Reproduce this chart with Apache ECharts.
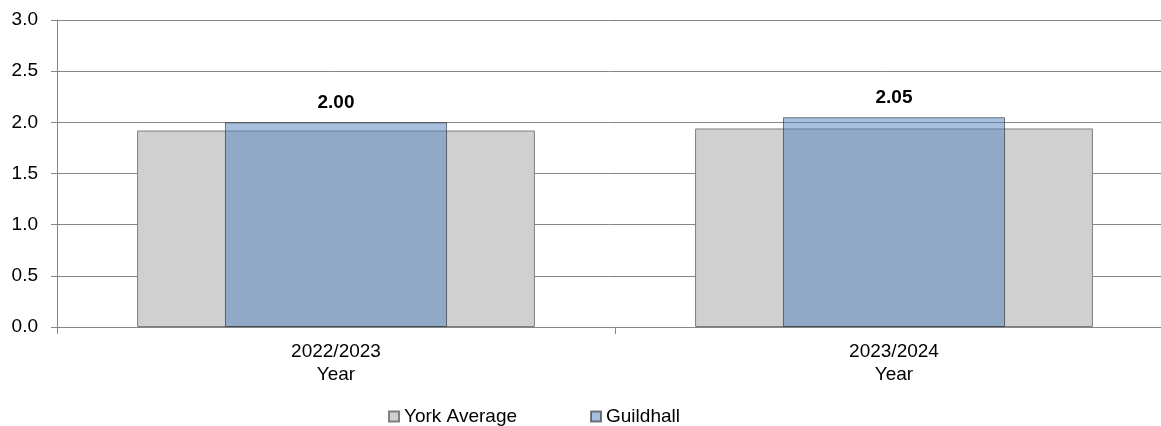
<!DOCTYPE html>
<html>
<head>
<meta charset="utf-8">
<script src="https://cdn.jsdelivr.net/npm/echarts@6/dist/echarts.min.js"></script>
<style>html,body{margin:0;padding:0;background:#fff;}#c{width:1161px;height:426px;}</style>
</head>
<body>
<div id="c"></div>
<script>
var categories = ['2022/2023\nYear', '2023/2024\nYear'];
var yorkAverage = [1.92, 1.94];
var guildhall = [2.00, 2.05];
var yTicks = [0, 0.5, 1.0, 1.5, 2.0, 2.5, 3.0];

var FONT = '"Liberation Sans", Arial, sans-serif';
var FS = 19;
var chart = echarts.init(document.getElementById('c'), null, {renderer: 'canvas'});
chart.setOption({
  animation: false,
  textStyle: {fontFamily: FONT},
  grid: {left: 57, top: 20, width: 1116, height: 307, containLabel: false, outerBoundsMode: 'none'},
  legend: {
    left: 383, top: 402,
    itemWidth: 10, itemHeight: 10, itemGap: 73,
    icon: 'rect',
    textStyle: {fontFamily: FONT, fontSize: FS, color: '#000'},
    data: ['York Average', 'Guildhall']
  },
  xAxis: [{
    type: 'category', data: categories,
    axisLine: {lineStyle: {color: '#868686', width: 1}},
    axisTick: {show: true, length: 7, lineStyle: {color: '#868686'}},
    axisLabel: {fontFamily: FONT, fontSize: FS, color: '#000', lineHeight: 23, margin: 13}
  }, {
    type: 'category', data: categories, show: false
  }],
  yAxis: {
    type: 'value', min: 0, max: 3, interval: 0.5,
    axisLine: {show: true, lineStyle: {color: '#868686'}},
    axisTick: {show: true, length: 6, lineStyle: {color: '#868686'}},
    splitLine: {lineStyle: {color: '#868686'}},
    axisLabel: {fontFamily: FONT, fontSize: FS, color: '#000', margin: 19,
      formatter: function (v) { return yTicks.indexOf(v) >= 0 ? v.toFixed(1) : ''; }}
  },
  series: [{
    name: 'York Average', type: 'bar', xAxisIndex: 0,
    data: yorkAverage, barWidth: '71.3%',
    itemStyle: {color: '#D0D0D0', borderColor: '#7F7F7F', borderWidth: 1}
  }, {
    name: 'Guildhall', type: 'bar', xAxisIndex: 1,
    data: guildhall, barWidth: '39.8%',
    itemStyle: {color: 'rgba(79,129,189,0.5)', borderColor: 'rgba(40,40,40,0.6)', borderWidth: 1},
    label: {show: true, position: 'top', distance: 10, fontFamily: FONT, fontSize: FS,
      fontWeight: 'bold', color: '#000', formatter: function (p) { return p.value.toFixed(2); }}
  }]
});
</script>
</body>
</html>
